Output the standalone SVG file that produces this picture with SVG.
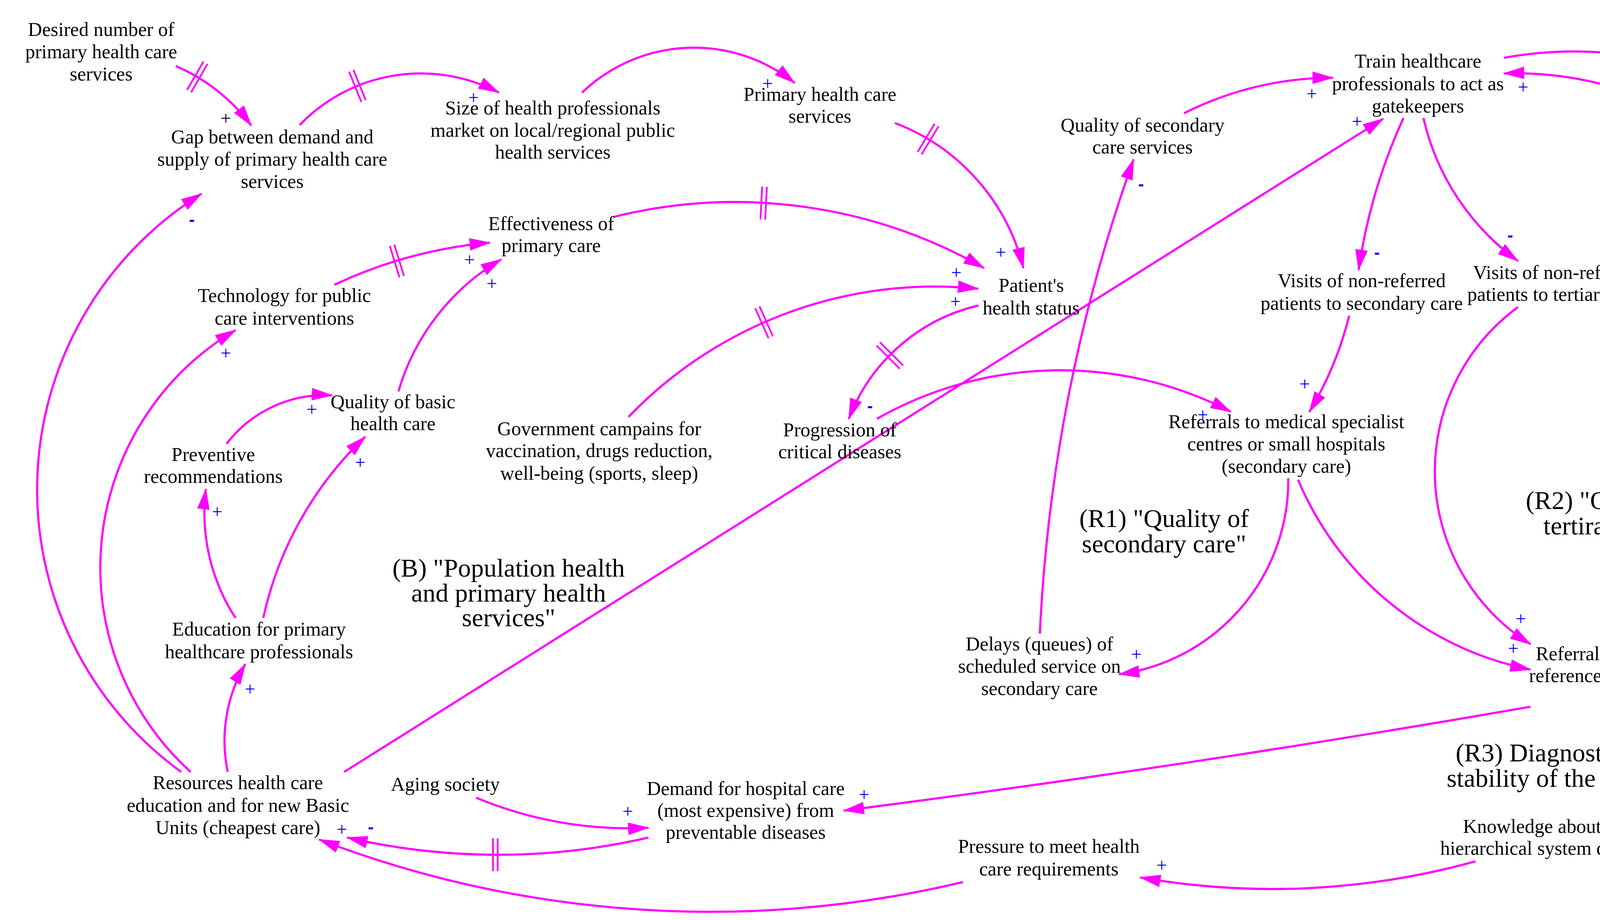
<svg xmlns="http://www.w3.org/2000/svg" xmlns:xlink="http://www.w3.org/1999/xlink" width="5085" height="2355" viewBox="0 0 5085 2355">
<style>
.n{font-family:"Liberation Serif","Times New Roman",serif;font-size:50px;fill:#000;text-anchor:middle}
.loop{font-family:"Liberation Serif","Times New Roman",serif;font-size:66px;fill:#000;text-anchor:middle}
.c{fill:none;stroke:#FF00FF;stroke-width:5.5}
.dm line{stroke:#FF00FF;stroke-width:4.5}
.p{font-family:"Liberation Serif","Times New Roman",serif;font-size:48px;fill:#0000FF;text-anchor:middle}
.pk{font-family:"Liberation Serif","Times New Roman",serif;font-size:48px;fill:#000;text-anchor:middle}
.m{font-family:"Liberation Sans",Arial,sans-serif;font-weight:bold;font-size:44px;fill:#0000FF;text-anchor:middle}
</style>
<defs>
<marker id="ah" markerUnits="userSpaceOnUse" viewBox="0 0 56 34" markerWidth="56" markerHeight="34" refX="52" refY="16" orient="auto">
<path d="M0,0 L55,16 L0,32 z" fill="#FF00FF"/>
</marker>
<g id="dm" class="dm"><line x1="-6" y1="-42" x2="-6" y2="42"/><line x1="6" y1="-42" x2="6" y2="42"/></g>
</defs>
<rect width="5085" height="2355" fill="#fff"/>

<g id="connectors">
<path class="c" marker-end="url(#ah)" d="M450,169 A476,476 0 0 1 643,321"/>
<path class="c" marker-end="url(#ah)" d="M767,320 A431,431 0 0 1 1277,237"/>
<path class="c" marker-end="url(#ah)" d="M1490,237 A414,414 0 0 1 2034,212"/>
<path class="c" marker-end="url(#ah)" d="M2291,315 A534,534 0 0 1 2620,686"/>
<path class="c" marker-end="url(#ah)" d="M1572,555 A1288,1288 0 0 1 2519,686"/>
<path class="c" marker-end="url(#ah)" d="M1609,1067 A1090,1090 0 0 1 2504,739"/>
<path class="c" marker-end="url(#ah)" d="M2505,782 A469,469 0 0 0 2173,1072"/>
<path class="c" marker-end="url(#ah)" d="M2245,1072 A950,950 0 0 1 3151,1054"/>
<path class="c" marker-end="url(#ah)" d="M881,1976 L3541,304"/>
<path class="c" marker-end="url(#ah)" d="M3031,290 A846,846 0 0 1 3412,199"/>
<path class="c" marker-end="url(#ah)" d="M2662,1622 A4185,4185 0 0 1 2902,408"/>
<path class="c" marker-end="url(#ah)" d="M3593,302 A1425,1425 0 0 0 3478,691"/>
<path class="c" marker-end="url(#ah)" d="M3644,302 A622,622 0 0 0 3886,668"/>
<path class="c" marker-end="url(#ah)" d="M4618,568 A911,911 0 0 0 3850,188"/>
<path class="c" marker-end="url(#ah)" d="M3850,148 A1008,1008 0 0 1 5037,1137 A1008,1008 0 0 1 4239,2125"/>
<path class="c" marker-end="url(#ah)" d="M3454,808 A892,892 0 0 1 3352,1054"/>
<path class="c" marker-end="url(#ah)" d="M3298,1224 A501,501 0 0 1 2865,1726"/>
<path class="c" marker-end="url(#ah)" d="M3323,1228 A820,820 0 0 0 3918,1714"/>
<path class="c" marker-end="url(#ah)" d="M3886,786 A522,522 0 0 0 3918,1649"/>
<path class="c" marker-end="url(#ah)" d="M4425,1653 A442,442 0 0 0 4641,1378"/>
<path class="c" marker-end="url(#ah)" d="M4744,1203 A430,430 0 0 0 4722,686"/>
<path class="c" marker-end="url(#ah)" d="M3918,1809 A39500,39500 0 0 1 2160,2075"/>
<path class="c" marker-end="url(#ah)" d="M1219,2042 A1014,1014 0 0 0 1660,2119"/>
<path class="c" marker-end="url(#ah)" d="M1660,2144 A1711,1711 0 0 1 889,2144"/>
<path class="c" marker-end="url(#ah)" d="M2465,2258 A2800,2800 0 0 1 817,2149"/>
<path class="c" marker-end="url(#ah)" d="M3777,2205 A1946,1946 0 0 1 2919,2246"/>
<path class="c" marker-end="url(#ah)" d="M464,1976 A892,892 0 0 1 516,496"/>
<path class="c" marker-end="url(#ah)" d="M488,1976 A707,707 0 0 1 603,845"/>
<path class="c" marker-end="url(#ah)" d="M583,1976 A389,389 0 0 1 628,1700"/>
<path class="c" marker-end="url(#ah)" d="M603,1582 A493,493 0 0 1 527,1252"/>
<path class="c" marker-end="url(#ah)" d="M674,1582 A906,906 0 0 1 935,1118"/>
<path class="c" marker-end="url(#ah)" d="M580,1136 A317,317 0 0 1 850,1012"/>
<path class="c" marker-end="url(#ah)" d="M1020,1002 A580,580 0 0 1 1283,664"/>
<path class="c" marker-end="url(#ah)" d="M856,729 A1190,1190 0 0 1 1254,621"/>
<use xlink:href="#dm" href="#dm" transform="translate(505,197) rotate(30)"/>
<use xlink:href="#dm" href="#dm" transform="translate(915,220) rotate(-22)"/>
<use xlink:href="#dm" href="#dm" transform="translate(2376,356) rotate(31)"/>
<use xlink:href="#dm" href="#dm" transform="translate(1955,520) rotate(3)"/>
<use xlink:href="#dm" href="#dm" transform="translate(1956,825) rotate(-24)"/>
<use xlink:href="#dm" href="#dm" transform="translate(2278,910) rotate(135)"/>
<use xlink:href="#dm" href="#dm" transform="translate(1268,2188) rotate(0)"/>
<use xlink:href="#dm" href="#dm" transform="translate(1016,668) rotate(-17)"/>
</g>

<g id="polarities">
<text class="pk" x="578" y="319">+</text>
<text class="p" x="1212" y="266">+</text>
<text class="p" x="1965" y="230">+</text>
<text class="p" x="2562" y="662">+</text>
<text class="p" x="2448" y="714">+</text>
<text class="p" x="2446" y="788">+</text>
<text class="p" x="3079" y="1078">+</text>
<text class="p" x="3474" y="327">+</text>
<text class="p" x="3358" y="256">+</text>
<text class="p" x="3899" y="239">+</text>
<text class="p" x="4282" y="2087">+</text>
<text class="p" x="2909" y="1691">+</text>
<text class="p" x="3874" y="1676">+</text>
<text class="p" x="3893" y="1600">+</text>
<text class="p" x="4583" y="1430">+</text>
<text class="p" x="2212" y="2050">+</text>
<text class="p" x="1607" y="2093">+</text>
<text class="p" x="875" y="2139">+</text>
<text class="p" x="2974" y="2231">+</text>
<text class="p" x="578" y="920">+</text>
<text class="p" x="640" y="1780">+</text>
<text class="p" x="556" y="1326">+</text>
<text class="p" x="922" y="1200">+</text>
<text class="p" x="798" y="1064">+</text>
<text class="p" x="1259" y="742">+</text>
<text class="p" x="1202" y="681">+</text>
<text class="p" x="3340" y="999">+</text>
<text class="m" x="2227" y="1054">-</text>
<text class="m" x="2921" y="486">-</text>
<text class="m" x="3525" y="661">-</text>
<text class="m" x="3866" y="617">-</text>
<text class="m" x="4720" y="771">-</text>
<text class="m" x="949" y="2132">-</text>
<text class="m" x="491" y="577">-</text>
</g>

<g id="n_desired"><text class="n"><tspan x="259" y="92">Desired number of</tspan><tspan x="259" y="149">primary health care</tspan><tspan x="259" y="206">services</tspan></text></g>
<g id="n_gap"><text class="n"><tspan x="697" y="367">Gap between demand and</tspan><tspan x="697" y="424">supply of primary health care</tspan><tspan x="697" y="481">services</tspan></text></g>
<g id="n_size"><text class="n"><tspan x="1415" y="293">Size of health professionals</tspan><tspan x="1415" y="350">market on local/regional public</tspan><tspan x="1415" y="406">health services</tspan></text></g>
<g id="n_primary"><text class="n"><tspan x="2099" y="258">Primary health care</tspan><tspan x="2099" y="314">services</tspan></text></g>
<g id="n_effectiveness"><text class="n"><tspan x="1411" y="589">Effectiveness of</tspan><tspan x="1411" y="645">primary care</tspan></text></g>
<g id="n_technology"><text class="n"><tspan x="728" y="773">Technology for public</tspan><tspan x="728" y="831">care interventions</tspan></text></g>
<g id="n_quality_basic"><text class="n"><tspan x="1006" y="1045">Quality of basic</tspan><tspan x="1006" y="1101">health care</tspan></text></g>
<g id="n_preventive"><text class="n"><tspan x="546" y="1180">Preventive</tspan><tspan x="546" y="1236">recommendations</tspan></text></g>
<g id="n_education"><text class="n"><tspan x="663" y="1627">Education for primary</tspan><tspan x="663" y="1685">healthcare professionals</tspan></text></g>
<g id="n_resources"><text class="n"><tspan x="609" y="2020">Resources health care</tspan><tspan x="609" y="2078">education and for new Basic</tspan><tspan x="609" y="2135">Units (cheapest care)</tspan></text></g>
<g id="n_aging"><text class="n"><tspan x="1140" y="2024">Aging society</tspan></text></g>
<g id="n_demand"><text class="n"><tspan x="1909" y="2035">Demand for hospital care</tspan><tspan x="1909" y="2091">(most expensive) from</tspan><tspan x="1909" y="2147">preventable diseases</tspan></text></g>
<g id="n_government"><text class="n"><tspan x="1534" y="1114">Government campains for</tspan><tspan x="1534" y="1170">vaccination, drugs reduction,</tspan><tspan x="1534" y="1228">well-being (sports, sleep)</tspan></text></g>
<g id="n_progression"><text class="n"><tspan x="2150" y="1117">Progression of</tspan><tspan x="2150" y="1173">critical diseases</tspan></text></g>
<g id="n_patient"><text class="n"><tspan x="2640" y="747">Patient's</tspan><tspan x="2640" y="805">health status</tspan></text></g>
<g id="n_quality_secondary"><text class="n"><tspan x="2925" y="337">Quality of secondary</tspan><tspan x="2925" y="393">care services</tspan></text></g>
<g id="n_train"><text class="n"><tspan x="3630" y="173">Train healthcare</tspan><tspan x="3630" y="231">professionals to act as</tspan><tspan x="3630" y="288">gatekeepers</tspan></text></g>
<g id="n_visits_secondary"><text class="n"><tspan x="3486" y="735">Visits of non-referred</tspan><tspan x="3486" y="793">patients to secondary care</tspan></text></g>
<g id="n_visits_tertiary"><text class="n"><tspan x="3986" y="714">Visits of non-referred</tspan><tspan x="3986" y="770">patients to tertiary care</tspan></text></g>
<g id="n_quality_tertiary"><text class="n"><tspan x="4662" y="615">Quality of tertiary</tspan><tspan x="4662" y="671">care services</tspan></text></g>
<g id="n_referrals_secondary"><text class="n"><tspan x="3293" y="1096">Referrals to medical specialist</tspan><tspan x="3293" y="1153">centres or small hospitals</tspan><tspan x="3293" y="1210">(secondary care)</tspan></text></g>
<g id="n_delays_secondary"><text class="n"><tspan x="2661" y="1665">Delays (queues) of</tspan><tspan x="2661" y="1722">scheduled service on</tspan><tspan x="2661" y="1779">secondary care</tspan></text></g>
<g id="n_referrals_tertiary"><text class="n"><tspan x="4171" y="1690">Referrals to hospitals or</tspan><tspan x="4171" y="1746">reference centres (tertiary</tspan><tspan x="4171" y="1802">care)</tspan></text></g>
<g id="n_delays_tertiary"><text class="n"><tspan x="4666" y="1247">Delays (queues) of</tspan><tspan x="4666" y="1305">scheduled service on</tspan><tspan x="4666" y="1362">tertiary care</tspan></text></g>
<g id="n_knowledge"><text class="n"><tspan x="3966" y="2132">Knowledge about real</tspan><tspan x="3966" y="2188">hierarchical system demand</tspan></text></g>
<g id="n_pressure"><text class="n"><tspan x="2685" y="2183">Pressure to meet health</tspan><tspan x="2685" y="2241">care requirements</tspan></text></g>

<g id="loop_B"><text class="loop"><tspan x="1302" y="1476">(B) "Population health</tspan><tspan x="1302" y="1540">and primary health</tspan><tspan x="1302" y="1603">services"</tspan></text></g>
<g id="loop_R1"><text class="loop"><tspan x="2980" y="1349">(R1) "Quality of</tspan><tspan x="2980" y="1414">secondary care"</tspan></text></g>
<g id="loop_R2"><text class="loop"><tspan x="4123" y="1303">(R2) "Quality of</tspan><tspan x="4123" y="1368">tertiray care"</tspan></text></g>
<g id="loop_R3"><text class="loop"><tspan x="3994" y="1949">(R3) Diagnostic and</tspan><tspan x="3994" y="2014">stability of the system</tspan></text></g>
</svg>
